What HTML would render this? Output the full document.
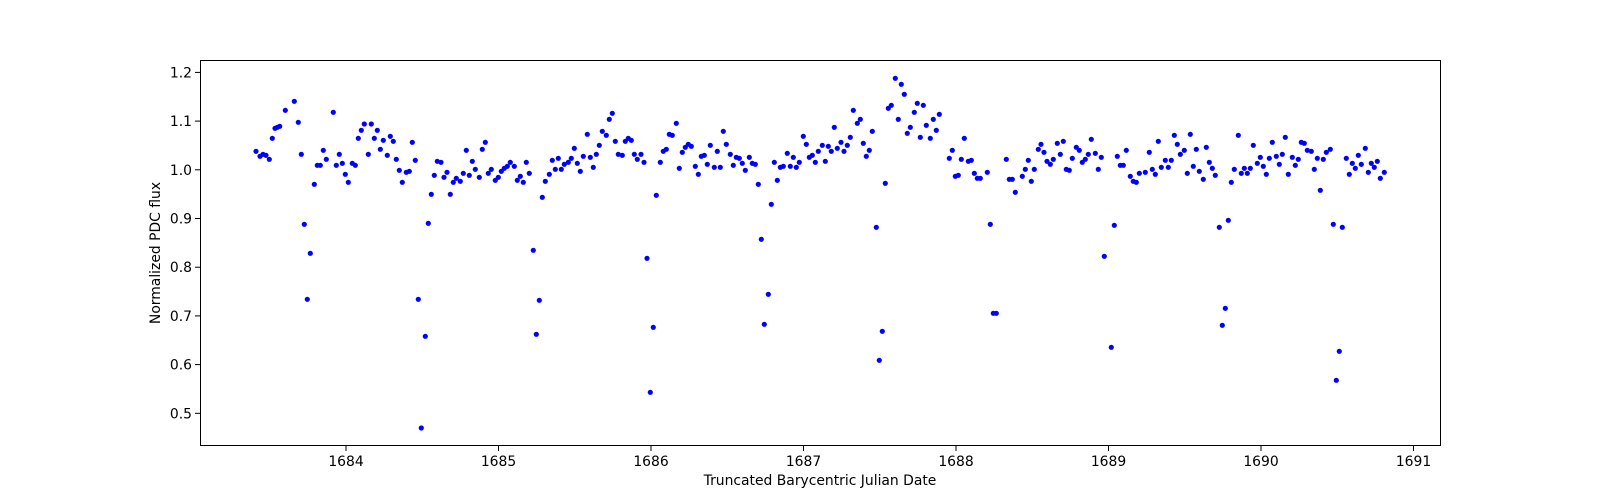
<!DOCTYPE html>
<html><head><meta charset="utf-8"><style>body{margin:0;background:#fff}svg{display:block}text{font-family:"DejaVu Sans","Liberation Sans",sans-serif;font-size:13.9px;fill:#000}</style></head><body>
<svg width="1600" height="500" xmlns="http://www.w3.org/2000/svg">
<rect x="0" y="0" width="1600" height="500" fill="#fff"/>
<g fill="#0000ff" id="all"></g>
<rect x="200.5" y="60.5" width="1240" height="385" fill="none" stroke="#000" stroke-width="1"/>
<g stroke="#000" id="ticks"></g>
<g text-anchor="middle" id="xl"></g>
<g text-anchor="end" id="yl"></g>
<text x="820" y="485" text-anchor="middle">Truncated Barycentric Julian Date</text>
<text transform="translate(160,253) rotate(-90)" text-anchor="middle">Normalized PDC flux</text>
</svg>
<script>
var D=[[240,[48,274,60,289,69,283,78,286,88,298,97,235,105,205,112,202,119,199,136,151,163,124,175,187,184,283,193,493,202,718,211,580,223,373,232,316,241,316,250,271,259,298,280,157,289,316,298,283,307,310,316,343,325,367,337,310,346,316,355,235,364,211,373,192,385,283,394,192,403,235,412,211,421,268,430,241,442,286,451,229,460,244,469,298,478,331,487,367,499,337,508,334,517,247,526,301,535,718,544,1104,556,829,565,490,574,403,583,346,592,304]],
[440,[3,307,12,352,21,337,31,403,40,367,49,355,61,364,70,340,79,271,88,346,97,304,106,328,118,352,127,268,136,247,145,340,154,328,166,361,175,352,184,334,193,325,202,319,211,307,223,319,232,361,241,349,250,367,259,307,268,340,280,571,289,823,298,721,307,412,316,364,328,343,337,301,346,328,355,295,364,328,373,313,385,307,394,295,403,265,412,310,421,334,430,289,442,223,451,292,460,322,469,283,478,256,487,214,499,226,508,178,517,160,526,244,535,283,547,286,556,244,565,235,574,241,583,283,592,298]],
[640,[3,283,12,307,21,595,31,997,40,802,49,406,61,307,70,274,79,268,88,223,97,226,109,190,118,325,127,277,136,262,145,253,154,259,166,319,175,343,184,289,193,286,202,313,211,256,223,322,232,274,241,322,250,214,259,253,271,283,280,316,289,292,298,295,307,310,316,331,328,292,337,310,346,313,355,373,364,538,373,793,385,703,394,433,403,307,412,361,421,322,430,319,442,280,451,319,460,292,469,322,478,307,490,229,499,253,508,292,517,286,526,307,535,274,547,256,556,304,565,259,574,274,583,202,592,265]],
[840,[3,247,12,274,22,256,31,232,40,151,52,190,61,178,70,250,79,289,88,271,97,214,109,502,118,901,127,814,136,370,145,145,154,136,166,55,175,178,184,73,193,103,202,220,211,202,223,157,232,130,241,232,250,136,259,196,271,235,280,178,289,211,298,163,328,295,337,271,346,349,355,346,364,298,373,235,385,304,394,301,403,340,412,355,421,355,442,337,451,493,460,760,469,760,499,298,508,358,517,358,526,397,547,349,556,328,565,301,574,364,583,328,595,268]],
[1040,[3,253,12,277,21,304,31,313,40,298,52,250,61,283,70,244,79,328,88,331,97,295,109,262,118,271,127,307,136,298,145,283,154,238,166,280,175,328,184,292,193,589,214,862,223,496,232,289,241,316,250,316,259,271,271,349,280,364,289,367,298,340,316,337,328,277,337,328,346,343,355,244,364,322,376,301,385,322,394,301,403,226,412,253,421,283,433,271,442,340,451,223,460,319,469,268,478,334,490,358,499,262,508,307,517,325,526,346,538,502,547,796,556,745,565,481,574,367,583,328,595,226]],
[1240,[4,340,13,325,22,340,31,325,40,256,52,310,61,292,70,319,79,343,88,295,97,247,109,289,118,313,127,283,136,232,145,343,157,292,166,316,175,298,184,247,193,250,202,271,214,274,223,328,232,295,241,391,250,298,259,277,271,268,280,493,289,961,298,874,307,502,319,295,328,343,337,310,346,325,355,286,364,313,376,265,385,337,394,310,403,322,412,304,421,355,433,337]]];
var s='';
D.forEach(function(c){var a=c[1];for(var i=0;i<a.length;i+=2){s+='<circle cx="'+(c[0]+a[i]/3).toFixed(1)+'" cy="'+(60+a[i+1]/3).toFixed(1)+'" r="2.6"/>';}});
document.getElementById('all').innerHTML=s;
var t='',xl='',yl='';
for(var k=0;k<8;k++){var x=346+k*152.5;t+='<line x1="'+x+'" y1="446" x2="'+x+'" y2="451"/>';xl+='<text x="'+x+'" y="466">'+(1684+k)+'</text>';
var y=413.3-k*48.7;t+='<line x1="195" y1="'+y+'" x2="200" y2="'+y+'"/>';yl+='<text x="192" y="'+(y+5)+'">'+(0.5+k*0.1).toFixed(1)+'</text>';}
document.getElementById('ticks').innerHTML=t;document.getElementById('xl').innerHTML=xl;document.getElementById('yl').innerHTML=yl;
</script>
</body></html>
